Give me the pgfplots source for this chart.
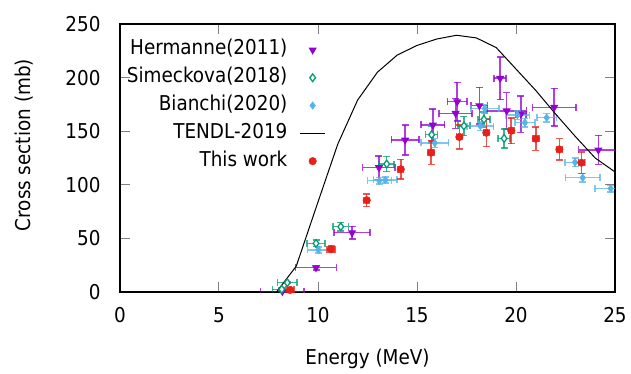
\documentclass[border=0pt]{standalone}
\usepackage{pgfplots}
\pgfplotsset{compat=1.18}
\usepackage{pgfplotstable}
\usepackage{fontspec}
\setmainfont{DejaVu Sans Condensed}
\definecolor{cherm}{HTML}{9400D3}
\definecolor{csim}{HTML}{009E73}
\definecolor{cbia}{HTML}{56B4E9}
\definecolor{cthis}{HTML}{E8201A}

\pgfplotstableread{
x y ex ey
8.2 0.5 1.1 1
9.9 22.7 1.03 2
11.72 55.3 0.9 6
13.08 116 0.82 11
14.4 141.8 0.7 14
15.8 155.8 0.6 15
16.95 166.7 0.84 14
17.03 177.5 0.49 18
18.15 173.8 0.42 17
19.2 199.4 0.3 20
19.53 169 1.0 17
20.25 166 0.25 17
21.93 172.3 1.1 17.6
24.16 132.5 1.0 13.5
}\herm

\pgfplotstableread{
x y ex ey
8.17 2.5 0.48 1
8.45 8.7 0.5 1
9.9 45.3 0.45 3
11.15 60.9 0.38 4
13.47 119.4 0.38 7
15.74 146.7 0.3 7.8
17.37 154.9 0.3 9
18.38 161 0.3 7
19.4 143.3 0.3 8.9
}\sime

\pgfplotstableread{
x y ex ey
10.02 39.2 0.55 3
13.1 103.8 0.6 3
13.4 104.5 0.6 3
15.9 139 0.7 4
18.2 154.8 0.67 4
18.43 171 0.7 4
20.07 165 0.6 4
20.45 158 0.5 4
21.55 162.6 0.5 4
22.98 121 0.5 4
23.37 106.6 0.88 4
24.78 96.5 0.8 3
}\bian

\pgfplotstableread{
x y
0 0
7.9 0
8.9 24
10 84
11 138
12 179
13 205
14 221
15 230
16 236
17 239.5
18 237
19 228
20 208
21 188
22 166
23 145
24 125
25 112
}\tendl

\pgfplotstableread{
x y ex ey
8.59 1.9 0.2 1.5
10.66 40 0.2 3
12.46 85.6 0.15 6
14.18 114.5 0.15 9.3
15.71 130 0.15 11
17.14 144.6 0.15 11
18.5 148.6 0.15 13
19.76 150.5 0.15 12
21.0 143 0.15 11
22.19 133 0.15 10
23.3 120.6 0.15 10
}\thiswork

\begin{document}
\begin{tikzpicture}
\useasboundingbox (-120bp,-82bp) rectangle (511bp,292bp);
\begin{axis}[
  at={(0,0)}, anchor=south west,
  scale only axis, width=495bp, height=268bp,
  xmin=0, xmax=25, ymin=0, ymax=250,
  xtick={0,5,...,25}, ytick={0,50,...,250},
  font=\fontsize{20.5}{24}\selectfont,
  /pgf/number format/assume math mode=true,
  tick align=inside, major tick length=10bp,
  tick style={gray, line width=1bp},
  axis line style={black, line width=1.2bp},
  yticklabel style={xshift=-16bp},
  xticklabel style={yshift=-12bp},
  xlabel={Energy (MeV)}, ylabel={Cross section (mb)},
  every axis x label/.style={at={(axis description cs:0.5,-0.25)}, anchor=center},
  every axis y label/.style={at={(axis description cs:-0.194,0.548)}, rotate=90, anchor=center},
  legend plot pos=right,
  legend cell align=right,
  legend style={at={(0.416,0.955)}, anchor=north east, draw=none, fill=none,
    inner sep=0pt, outer sep=0pt,
    nodes={inner xsep=12bp, inner ysep=3.9bp, text height=15bp, text depth=5bp},
    font=\fontsize{20.5}{24}\selectfont},
  legend image code/.code={\draw[mark repeat=2,mark phase=2] plot coordinates {(0cm,0cm) (0.45cm,0cm) (0.9cm,0cm)};},
  error bars/error bar style={line width=1.5bp, opacity=0.75},
  error bars/error mark options={rotate=90, mark size=3.5bp, line width=1.5bp},
]
\addplot[only marks, color=cherm, mark=triangle*, mark size=3.8bp, mark options={rotate=180, line width=1bp},
  error bars/.cd, x dir=both, x explicit, y dir=both, y explicit]
  table[x=x, y=y, x error=ex, y error=ey] {\herm};
\addlegendentry{Hermanne(2011)}
\addplot[only marks, color=csim, mark=diamond*, mark size=3.8bp, mark options={fill=white, line width=1.3bp},
  error bars/.cd, x dir=both, x explicit, y dir=both, y explicit]
  table[x=x, y=y, x error=ex, y error=ey] {\sime};
\addlegendentry{Simeckova(2018)}
\addplot[only marks, color=cbia, mark=diamond*, mark size=3.8bp,
  error bars/.cd, x dir=both, x explicit, y dir=both, y explicit]
  table[x=x, y=y, x error=ex, y error=ey] {\bian};
\addlegendentry{Bianchi(2020)}
\addplot[black, line width=1bp, no markers] table[x=x, y=y] {\tendl};
\addlegendentry{TENDL-2019}
\addplot[only marks, color=cthis, mark=*, mark size=3.8bp,
  error bars/.cd, x dir=both, x explicit, y dir=both, y explicit]
  table[x=x, y=y, x error=ex, y error=ey] {\thiswork};
\addlegendentry{This work}
\end{axis}
\end{tikzpicture}
\end{document}
